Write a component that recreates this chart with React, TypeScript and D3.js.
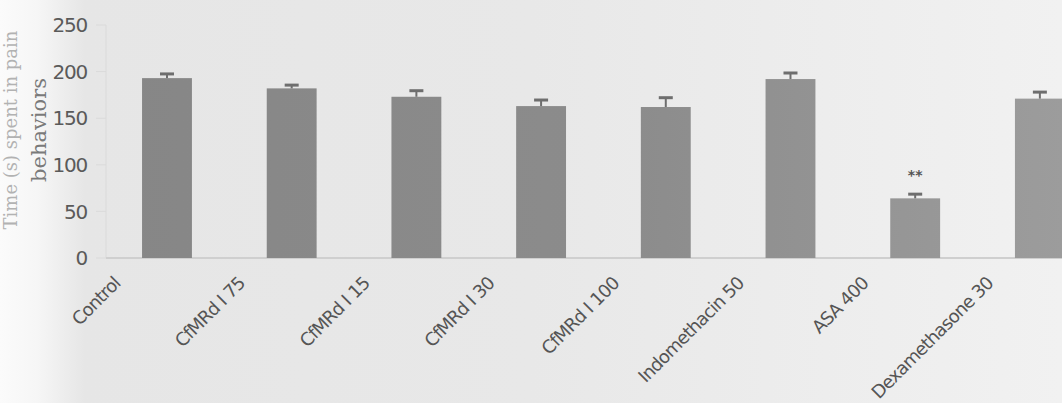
import React from "react";
import * as d3 from "d3";

const categories = [
  "Control",
  "CfMRd I 75",
  "CfMRd I 15",
  "CfMRd I 30",
  "CfMRd I 100",
  "Indomethacin 50",
  "ASA 400",
  "Dexamethasone 30",
];
const values = [193, 182, 173, 163, 162, 192, 64, 171];
const errors = [4.5, 3.5, 6.5, 6.5, 10, 6.5, 4.5, 7];
const significance = ["", "", "", "", "", "", "**", ""];
const yTicks = [0, 50, 100, 150, 200, 250];

const W = 1062;
const H = 403;

export default function App() {
  const x = d3
    .scaleBand<string>()
    .domain(categories)
    .range([109, 109 + 124.7 * 7.93])
    .paddingInner(0.6)
    .paddingOuter(0.265);
  const y = d3.scaleLinear().domain([0, 250]).range([258, 25]);
  const bw = x.bandwidth();

  return (
    <div style={{ position: "absolute", left: 0, top: 0 }}>
      <svg width={W} height={H} style={{ display: "block" }}>
        <defs>
          <linearGradient id="bg" x1="0" y1="0" x2="1" y2="0">
            <stop offset="0" stopColor="#fbfbfb" />
            <stop offset="0.035" stopColor="#f6f6f6" />
            <stop offset="0.08" stopColor="#e6e6e6" />
            <stop offset="0.5" stopColor="#e8e8e8" />
            <stop offset="1" stopColor="#f1f1f1" />
          </linearGradient>
          <linearGradient id="barg" x1="0" y1="0" x2={W} y2="0" gradientUnits="userSpaceOnUse">
            <stop offset="0" stopColor="#858585" />
            <stop offset="0.6" stopColor="#8c8c8c" />
            <stop offset="1" stopColor="#9c9c9c" />
          </linearGradient>
        </defs>
        <rect x={0} y={0} width={W} height={H} fill="url(#bg)" />

        {/* axis lines */}
        <line x1={106} x2={106} y1={y(250)} y2={y(0)} stroke="#dadada" strokeWidth={1} />
        <line x1={106} x2={W} y1={y(0)} y2={y(0)} stroke="#cfcfcf" strokeWidth={2} />
        {yTicks.map((t) => (
          <g key={t}>
            <line x1={96} x2={106} y1={y(t)} y2={y(t)} stroke="#dadada" />
            <text
              x={87}
              y={y(t)}
              dy="0.36em"
              textAnchor="end"
              fontFamily="'DejaVu Sans', Verdana, sans-serif"
              fontSize={20}
              fill="#5a5a5a"
              letterSpacing={-1.2}
            >
              {t}
            </text>
          </g>
        ))}

        {/* y axis title */}
        <text
          transform={`translate(17,130) rotate(-90)`}
          textAnchor="middle"
          fontFamily="'DejaVu Serif', serif"
          fontSize={18}
          fill="#b2b2b2"
        >
          Time (s) spent in pain
        </text>
        <text
          transform={`translate(46,130) rotate(-90)`}
          textAnchor="middle"
          fontFamily="'DejaVu Serif', serif"
          fontSize={21}
          fill="#7a7a7a"
        >
          behaviors
        </text>

        {/* bars */}
        {categories.map((c, i) => {
          const bx = x(c)!;
          const cx = bx + bw / 2;
          const top = y(values[i]);
          const et = y(values[i] + errors[i]);
          return (
            <g key={c}>
              <rect x={bx} y={top} width={bw} height={y(0) - top} fill="url(#barg)" />
              <line x1={cx} x2={cx} y1={top} y2={et} stroke="#6e6e6e" strokeWidth={2} />
              <line x1={cx - 7} x2={cx + 7} y1={et} y2={et} stroke="#6e6e6e" strokeWidth={3} />
              {significance[i] && (
                <text
                  x={cx}
                  y={y(values[i] + errors[i]) - 14}
                  textAnchor="middle"
                  fontFamily="'DejaVu Sans', sans-serif"
                  fontSize={14}
                  fontWeight="bold"
                  fill="#555"
                >
                  {significance[i]}
                </text>
              )}
            </g>
          );
        })}

        {/* x labels */}
        <g>
          {categories.map((c) => {
            const cx = x(c)! + bw / 2 - 50;
            return (
              <text
                key={c}
                transform={`translate(${cx},280) rotate(-45)`}
                textAnchor="end"
                dy="0.35em"
                fontFamily="'DejaVu Sans', Verdana, sans-serif"
                fontSize={18}
                fill="#555"
                letterSpacing={-0.8}
              >
                {c}
              </text>
            );
          })}
        </g>
      </svg>
    </div>
  );
}
